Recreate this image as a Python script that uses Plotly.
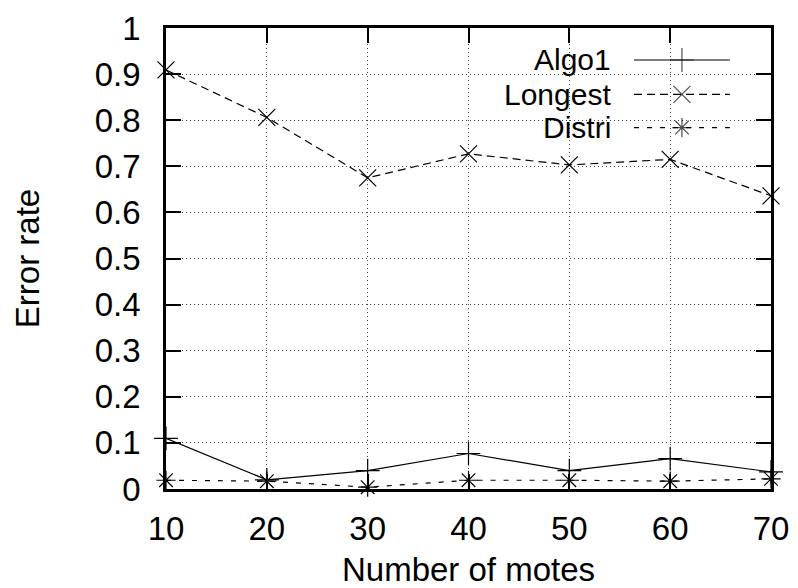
import plotly.graph_objects as go

motes = [10, 20, 30, 40, 50, 60, 70]
algo1 = [0.110, 0.020, 0.040, 0.077, 0.040, 0.066, 0.037]
longest = [0.909, 0.806, 0.675, 0.727, 0.703, 0.715, 0.636]
distri = [0.019, 0.017, 0.004, 0.019, 0.019, 0.017, 0.022]

series_names = ["Algo1", "Longest", "Distri"]
y_tickvals = [0, 0.1, 0.2, 0.3, 0.4, 0.5, 0.6, 0.7, 0.8, 0.9, 1.0]
y_ticktext = ["0", "0.1", "0.2", "0.3", "0.4", "0.5", "0.6", "0.7", "0.8", "0.9", "1"]
x_tickvals = [10, 20, 30, 40, 50, 60, 70]

FONT = "Liberation Sans, Arial, Helvetica, sans-serif"
FS = 33
LEG_FS = 30
styles = {
    "Algo1": dict(dash="solid", symbol="cross-thin-open", size=17),
    "Longest": dict(dash="8px,5px", symbol="x-thin-open", size=17),
    "Distri": dict(dash="5px,8px", symbol="asterisk-open", size=16),
}
data = {"Algo1": algo1, "Longest": longest, "Distri": distri}

fig = go.Figure()
for name in series_names:
    st = styles[name]
    fig.add_trace(go.Scatter(
        x=motes, y=data[name], mode="lines+markers", name=name,
        line=dict(color="black", width=1.2, dash=st["dash"]),
        marker=dict(symbol=st["symbol"], size=st["size"], color="black",
                    line=dict(color="black", width=1.2)),
        showlegend=False, cliponaxis=False,
    ))

# custom legend (text to the left of sample, gnuplot style)
leg_x0, leg_x1 = 0.7736, 0.932
leg_ys = [0.9306, 0.856, 0.784]
for name, ly in zip(series_names, leg_ys):
    st = styles[name]
    fig.add_trace(go.Scatter(
        x=[leg_x0, (leg_x0 + leg_x1) / 2, leg_x1], y=[ly, ly, ly],
        xaxis="x2", yaxis="y2", mode="lines+markers", showlegend=False,
        line=dict(color="black", width=1.2, dash=st["dash"]),
        marker=dict(symbol=st["symbol"], size=[0, st["size"], 0], color="black",
                    line=dict(color="black", width=1.2)),
        hoverinfo="skip",
    ))
    fig.add_annotation(x=0.737, y=ly, xref="paper", yref="paper", text=name,
                       showarrow=False, xanchor="right", yanchor="middle",
                       borderpad=0,
                       font=dict(family=FONT, size=LEG_FS, color="black"))

axis_common = dict(
    showline=True, linecolor="black", linewidth=2.5, mirror="ticks",
    ticks="inside", ticklen=15, tickwidth=2, tickcolor="black",
    showgrid=True, gridcolor="#444", gridwidth=1, griddash="1px,3px",
    zeroline=False, tickfont=dict(family=FONT, size=FS, color="black"),
)

fig.update_layout(
    width=790, height=580,
    margin=dict(l=158, r=27, t=20, b=99),
    paper_bgcolor="white", plot_bgcolor="white",
    font=dict(family=FONT, color="black"),
    xaxis=dict(range=[10, 70], tickvals=x_tickvals, ticklabelstandoff=9,
               automargin=False,
               title=dict(text="Number of motes", font=dict(family=FONT, size=FS),
                          standoff=31),
               **axis_common),
    yaxis=dict(range=[0, 1], tickvals=y_tickvals, ticktext=y_ticktext,
               ticklabelstandoff=16, automargin=False,
               title=dict(text="Error rate", font=dict(family=FONT, size=FS),
                          standoff=46),
               **axis_common),
    xaxis2=dict(range=[0, 1], overlaying="x", visible=False, domain=[0, 1]),
    yaxis2=dict(range=[0, 1], overlaying="y", visible=False),
    showlegend=False,
)

fig.write_html("out.html")
